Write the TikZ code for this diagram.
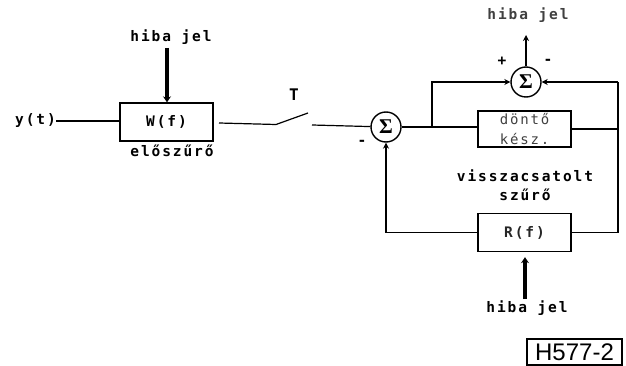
\documentclass[tikz,border=0pt]{standalone}
\usepackage{fontspec}
\setmainfont{DejaVu Sans Mono}[LetterSpace=13]
\newfontfamily\labelfont{Liberation Sans}
\newfontfamily\sigmafont{Liberation Serif}
\usetikzlibrary{arrows.meta,calc}
\tikzset{
  blockbox/.style={draw,line width=1.4pt,minimum width=93pt,minimum height=38pt,inner sep=0pt,font=\fontsize{14.5}{16}\selectfont\bfseries},
  sumnode/.style={draw,circle,line width=1.4pt,minimum size=30pt,inner sep=0pt,font=\fontsize{21}{21}\sigmafont\bfseries},
  lbl/.style={inner sep=0pt,font=\fontsize{14.5}{16}\selectfont\bfseries},
  wire/.style={line width=1.2pt},
  wirearrow/.style={line width=1.2pt,-{Stealth[length=6pt,width=6pt]}},
  thickarrow/.style={line width=3.5pt,-{Stealth[length=6pt,width=8pt]}},
}
\begin{document}
\begin{tikzpicture}[x=1pt,y=-1pt]
\useasboundingbox (0,0) rectangle (626,366);
\node[blockbox] (W) at (166.5,122) {W(f)};
\node[blockbox,minimum height=36pt,align=left,font=\fontsize{14}{20}\selectfont,text=black!75] (D) at (524.5,129) {döntő\\kész.};
\node[blockbox,text=black!85] (R) at (524.5,232.5) {R(f)};
\node[sumnode] (S1) at (386,127) {Σ};
\node[sumnode] (S2) at (526,82) {Σ};
\node[lbl,anchor=east] (y) at (56,121) {y(t)};
\node[lbl] (h1) at (171,37) {hiba jel};
\node[lbl,text=black!75] (h2) at (528,15) {hiba jel};
\node[lbl] (h3) at (527,308) {hiba jel};
\node[lbl] (e) at (172,151) {előszűrő};
\node[lbl,font=\fontsize{16}{16}\selectfont\bfseries] (T) at (294,95) {T};
\node[lbl] (v) at (525,176) {visszacsatolt};
\node[lbl] (s) at (525,195) {szűrő};
\node[lbl] (plus) at (502,61) {+};
\node[lbl] (m1) at (548,62) {-};
\node[lbl] (m2) at (362,143) {-};
\node[draw,line width=1.4pt,minimum width=95pt,minimum height=26pt,inner sep=0pt,font=\fontsize{24}{24}\labelfont] (H) at (574.5,352) {H577-2};
\coordinate (a1) at (167,48);
\coordinate (a3) at (525,299);
\coordinate (sw1) at (219,123);
\coordinate (sw2) at (276,124.5);
\coordinate (sw3) at (308,113);
\coordinate (sw4) at (312,125);
\coordinate (j) at (432,127);
\coordinate (rt) at (618,82);
\coordinate (rb) at (618,232.5);
\coordinate (o) at (526,35);
\draw[wire] (y) -- (W.west |- y);
\draw[thickarrow] (a1) -- (a1 |- W.north);
\draw[wire] (sw1) -- (sw2) -- (sw3);
\draw[wire] (sw4) -- (S1);
\draw[wire] (S1) -- (j) -- (D.west |- j);
\draw[wirearrow] (j) |- (S2.west);
\draw[wirearrow] (S2) -- (o);
\draw[wire] (D.east) -- (D.east -| rt);
\draw[wire] (R.east) -- (rb) -- (rt);
\draw[wirearrow] (rt) -- (S2.east);
\draw[wirearrow] (R.west) -| (S1.south);
\draw[thickarrow] (a3) -- ($(a3 |- R.south)+(0,5)$);
\end{tikzpicture}
\end{document}
